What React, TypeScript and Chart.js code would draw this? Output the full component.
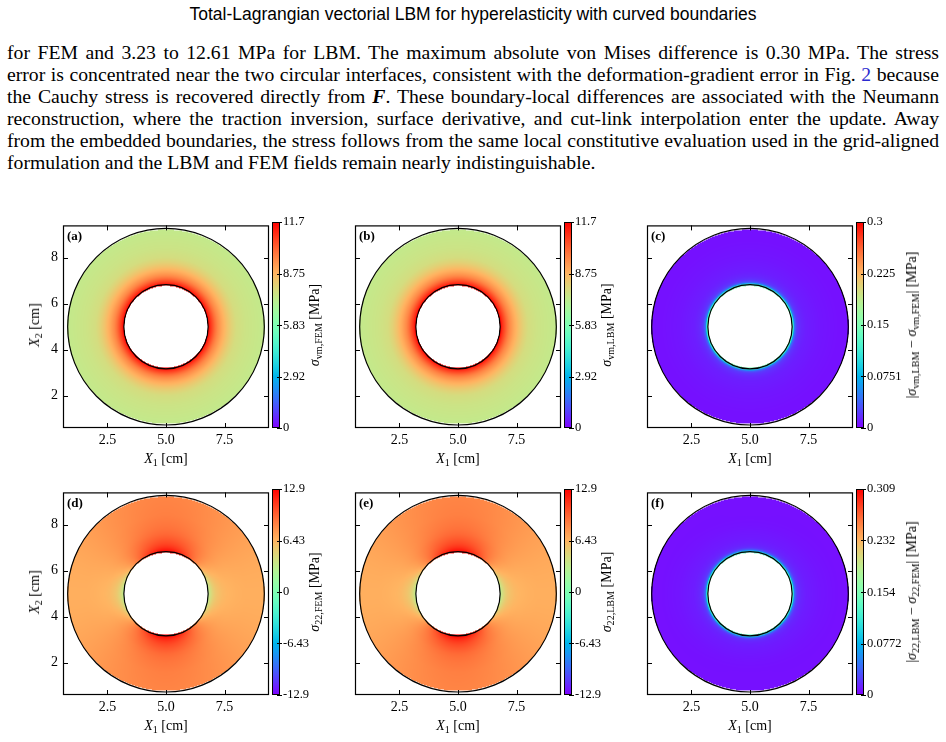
import React, { useEffect, useRef } from 'react';
import { Chart, registerables } from 'chart.js';
Chart.register(...registerables);

// ---------------- data ----------------
const xTicks = [2.5, 5.0, 7.5];
const xTickLabels = ['2.5', '5.0', '7.5'];
const yTicks = [2, 4, 6, 8];
const yTickLabels = ['2', '4', '6', '8'];
const axisRange = [0.6, 9.4];
const ringCenter = [5.0, 5.0];
const ringRadii = [1.8, 4.2];

// radial sample positions (cm) for the field profiles
const profileRadii = [1.8, 1.85, 1.9, 2.0, 2.1, 2.2, 2.4, 2.6, 2.8, 3.0, 3.4, 3.8, 4.2];
// von Mises stress (MPa), axisymmetric
const vmFem = [11.7, 11.4, 11.0, 10.5, 10.0, 9.6, 9.0, 8.5, 8.1, 7.8, 7.6, 7.5, 7.4];
const vmLbm = [11.7, 11.4, 11.0, 10.5, 10.0, 9.6, 9.0, 8.5, 8.1, 7.8, 7.6, 7.5, 7.4];
const vmAbsDiff = [0.15, 0.11, 0.045, 0.022, 0.017, 0.014, 0.011, 0.01, 0.009, 0.008, 0.007, 0.006, 0.006];
// sigma_22 (MPa) along the vertical (top/bottom) and horizontal (left/right) directions
const s22FemVertical = [12.9, 12.5, 12.1, 11.4, 10.9, 10.5, 9.9, 9.4, 9.1, 8.9, 8.6, 8.5, 8.4];
const s22FemHorizontal = [2.8, 3.6, 4.2, 5.0, 5.5, 5.8, 6.2, 6.4, 6.5, 6.6, 6.7, 6.7, 6.7];
const s22LbmVertical = [12.9, 12.5, 12.1, 11.4, 10.9, 10.5, 9.9, 9.4, 9.1, 8.9, 8.6, 8.5, 8.4];
const s22LbmHorizontal = [2.8, 3.6, 4.2, 5.0, 5.5, 5.8, 6.2, 6.4, 6.5, 6.6, 6.7, 6.7, 6.7];
const s22DiffVertical = [0.14, 0.1, 0.04, 0.018, 0.014, 0.012, 0.01, 0.009, 0.008, 0.007, 0.006, 0.006, 0.006];
const s22DiffHorizontal = [0.15, 0.11, 0.045, 0.022, 0.017, 0.014, 0.011, 0.01, 0.009, 0.008, 0.007, 0.006, 0.006];

// colorbar ranges and ticks
const vmRange = [0, 11.7];
const vmCbTicks = [0, 2.92, 5.83, 8.75, 11.7];
const vmCbLabels = ['0', '2.92', '5.83', '8.75', '11.7'];
const vmDiffRange = [0, 0.3];
const vmDiffCbTicks = [0, 0.0751, 0.15, 0.225, 0.3];
const vmDiffCbLabels = ['0', '0.0751', '0.15', '0.225', '0.3'];
const s22Range = [-12.9, 12.9];
const s22CbTicks = [-12.9, -6.43, 0, 6.43, 12.9];
const s22CbLabels = ['-12.9', '-6.43', '0', '6.43', '12.9'];
const s22DiffRange = [0, 0.309];
const s22DiffCbTicks = [0, 0.0772, 0.154, 0.232, 0.309];
const s22DiffCbLabels = ['0', '0.0772', '0.154', '0.232', '0.309'];

const panelLetters = ['(a)', '(b)', '(c)', '(d)', '(e)', '(f)'];

const headerText = 'Total-Lagrangian vectorial LBM for hyperelasticity with curved boundaries';

// ---------------- layout ----------------
const SERIF = '"Liberation Serif", "Times New Roman", serif';
const PLOT = 206;
const colLeft = [63, 355, 647];
const rowTop = [222, 489];
const CB_OFF = 209;
const CB_W = 8;

// ---------------- helpers ----------------
function rainbow(t: number): number[] {
  const u = Math.max(0, Math.min(1, t));
  const r = Math.min(1, Math.abs(2 * u - 0.5));
  const g = Math.sin(Math.PI * u);
  const b = Math.cos((Math.PI * u) / 2);
  return [Math.round(r * 255), Math.round(g * 255), Math.round(Math.max(0, b) * 255)];
}

function interp(r: number, xs: number[], ys: number[]) {
  if (r <= xs[0]) return ys[0];
  for (let i = 1; i < xs.length; i++) {
    if (r <= xs[i]) {
      const f = (r - xs[i - 1]) / (xs[i] - xs[i - 1]);
      return ys[i - 1] + f * (ys[i] - ys[i - 1]);
    }
  }
  return ys[ys.length - 1];
}

const fieldPlugin = {
  id: 'annulusField',
  beforeDatasetsDraw(chart: any, _a: any, opts: any) {
    const { ctx, chartArea: ca, scales } = chart;
    const xs = scales.x, ys = scales.y;
    const w = Math.round(ca.right - ca.left), h = Math.round(ca.bottom - ca.top);
    const img = ctx.createImageData(w, h);
    const [cx, cy] = ringCenter;
    const [rIn, rOut] = ringRadii;
    const [vmin, vmax] = opts.range;
    for (let j = 0; j < h; j++) {
      const yv = ys.getValueForPixel(ca.top + j + 0.5);
      for (let i = 0; i < w; i++) {
        const xv = xs.getValueForPixel(ca.left + i + 0.5);
        const dx = xv - cx, dy = yv - cy;
        const r = Math.sqrt(dx * dx + dy * dy);
        if (r < rIn - 0.02 || r > rOut + 0.02) continue;
        const s2 = r > 0 ? (dy * dy) / (r * r) : 0;
        const v = interp(r, profileRadii, opts.vertical) * s2 + interp(r, profileRadii, opts.horizontal) * (1 - s2);
        const c = rainbow((v - vmin) / (vmax - vmin));
        const k = (j * w + i) * 4;
        img.data[k] = c[0]; img.data[k + 1] = c[1]; img.data[k + 2] = c[2]; img.data[k + 3] = 255;
      }
    }
    const off = document.createElement('canvas');
    off.width = w; off.height = h;
    (off.getContext('2d') as any).putImageData(img, 0, 0);
    ctx.save();
    ctx.drawImage(off, ca.left, ca.top);
    const px = xs.getPixelForValue(cx), py = ys.getPixelForValue(cy);
    ctx.strokeStyle = '#000';
    ctx.lineWidth = 1.2;
    for (const rr of ringRadii) {
      const rp = xs.getPixelForValue(cx + rr) - px;
      ctx.beginPath();
      ctx.arc(px, py, rp, 0, Math.PI * 2);
      ctx.stroke();
    }
    ctx.restore();
  },
  afterDraw(chart: any, _a: any, opts: any) {
    const { ctx, chartArea: ca, scales } = chart;
    ctx.save();
    ctx.strokeStyle = '#000';
    ctx.lineWidth = 1;
    const L = 5;
    ctx.beginPath();
    for (const v of xTicks) {
      const p = Math.round(scales.x.getPixelForValue(v)) + 0.5;
      ctx.moveTo(p, ca.bottom); ctx.lineTo(p, ca.bottom - L);
      ctx.moveTo(p, ca.top); ctx.lineTo(p, ca.top + L);
    }
    for (const v of yTicks) {
      const p = Math.round(scales.y.getPixelForValue(v)) + 0.5;
      ctx.moveTo(ca.left, p); ctx.lineTo(ca.left + L, p);
      ctx.moveTo(ca.right, p); ctx.lineTo(ca.right - L, p);
    }
    ctx.stroke();
    ctx.lineWidth = 1.2;
    ctx.strokeRect(ca.left + 0.5, ca.top + 0.5, ca.right - ca.left - 1, ca.bottom - ca.top - 1);
    ctx.fillStyle = '#000';
    ctx.font = 'bold 13px ' + SERIF;
    ctx.textBaseline = 'middle';
    ctx.textAlign = 'left';
    ctx.fillText(opts.letter, ca.left + 4, ca.top + 11);
    ctx.restore();
  },
};

const cbPlugin = {
  id: 'cbFrame',
  afterDraw(chart: any, _a: any, opts: any) {
    const { ctx, chartArea: ca, scales } = chart;
    ctx.save();
    ctx.strokeStyle = '#000';
    ctx.lineWidth = 1;
    ctx.beginPath();
    for (const v of opts.ticks) {
      const p = Math.round(scales.y.getPixelForValue(v)) + 0.5;
      ctx.moveTo(ca.right - 3, p); ctx.lineTo(ca.right + 2, p);
    }
    ctx.stroke();
    ctx.strokeRect(ca.left + 0.5, ca.top + 0.5, ca.right - ca.left - 1, ca.bottom - ca.top - 1);
    ctx.restore();
  },
};

function FieldChart({ left, top, spec, showY }: any) {
  const ref = useRef<HTMLCanvasElement>(null);
  const PADL = 40, PADT = 10, PADR = 4, PADB = 24;
  const W = PADL + PLOT + PADR, H = PADT + PLOT + PADB;
  useEffect(() => {
    const chart = new Chart(ref.current as any, {
      type: 'scatter',
      data: { datasets: [] },
      plugins: [fieldPlugin as any],
      options: {
        animation: false,
        responsive: false,
        devicePixelRatio: 1,
        layout: { padding: { left: 0, top: PADT, right: PADR, bottom: 0 } },
        plugins: {
          legend: { display: false },
          tooltip: { enabled: false },
          annulusField: spec,
        } as any,
        scales: {
          x: {
            type: 'linear', position: 'bottom', min: axisRange[0], max: axisRange[1],
            afterBuildTicks: (s: any) => { s.ticks = xTicks.map((v) => ({ value: v })); },
            afterFit: (s: any) => { s.height = PADB; },
            ticks: {
              callback: (v: any) => xTickLabels[xTicks.indexOf(v)] ?? '',
              font: { family: SERIF, size: 14 }, color: '#000', padding: 4, maxRotation: 0, autoSkip: false,
            },
            grid: { display: false, drawTicks: false },
            border: { display: false },
          },
          y: {
            type: 'linear', position: 'left', min: axisRange[0], max: axisRange[1],
            afterBuildTicks: (s: any) => { s.ticks = yTicks.map((v) => ({ value: v })); },
            afterFit: (s: any) => { s.width = PADL; },
            ticks: {
              callback: (v: any) => (showY ? yTickLabels[yTicks.indexOf(v)] ?? '' : ''),
              font: { family: SERIF, size: 14 }, color: '#000', padding: 5, autoSkip: false,
            },
            grid: { display: false, drawTicks: false },
            border: { display: false },
          },
        },
      } as any,
    });
    return () => chart.destroy();
  }, []);
  return (
    <canvas ref={ref} width={W} height={H}
      style={{ position: 'absolute', left: left - PADL, top: top - PADT, width: W, height: H }} />
  );
}

function ColorbarChart({ left, top, range, ticks, labels }: any) {
  const ref = useRef<HTMLCanvasElement>(null);
  const AX = 44, PAD = 12;
  const W = CB_W + AX, H = PLOT + 2 * PAD;
  useEffect(() => {
    const chart = new Chart(ref.current as any, {
      type: 'bar',
      data: {
        labels: ['cb'],
        datasets: [{
          data: [[range[0], range[1]]],
          backgroundColor: (c: any) => {
            const ca = c.chart.chartArea;
            if (!ca) return 'rgba(0,0,0,0)';
            const g = c.chart.ctx.createLinearGradient(0, ca.bottom, 0, ca.top);
            for (let i = 0; i <= 40; i++) {
              const col = rainbow(i / 40);
              g.addColorStop(i / 40, `rgb(${col[0]},${col[1]},${col[2]})`);
            }
            return g;
          },
          borderWidth: 0,
          barPercentage: 1,
          categoryPercentage: 1,
        }],
      },
      plugins: [cbPlugin as any],
      options: {
        animation: false,
        responsive: false,
        devicePixelRatio: 1,
        layout: { padding: { left: 0, top: PAD, right: 0, bottom: PAD } },
        plugins: { legend: { display: false }, tooltip: { enabled: false }, cbFrame: { ticks } } as any,
        scales: {
          x: { display: false },
          y: {
            type: 'linear', position: 'right', min: range[0], max: range[1],
            afterBuildTicks: (s: any) => { s.ticks = ticks.map((v: number) => ({ value: v })); },
            afterFit: (s: any) => { s.width = AX; },
            ticks: {
              callback: (v: any) => labels[ticks.indexOf(v)] ?? '',
              font: { family: SERIF, size: 12.5 }, color: '#000', padding: 3, autoSkip: false,
            },
            grid: { display: false, drawTicks: false },
            border: { display: false },
          },
        },
      } as any,
    });
    return () => chart.destroy();
  }, []);
  return (
    <canvas ref={ref} width={W} height={H}
      style={{ position: 'absolute', left, top: top - PAD, width: W, height: H }} />
  );
}

const sub = (t: string) => (
  <span style={{ fontSize: '0.72em', fontStyle: 'normal', position: 'relative', top: '0.28em' }}>{t}</span>
);
const sigma = (s: string) => (<span><i>σ</i>{sub(s)}</span>);

function Rotated({ cx, cy, children, size = 14 }: any) {
  return (
    <div style={{
      position: 'absolute', left: cx, top: cy, transform: 'translate(-50%, -50%) rotate(-90deg)',
      whiteSpace: 'nowrap', fontFamily: SERIF, fontSize: size, lineHeight: 1, color: '#000',
    }}>{children}</div>
  );
}

function XLabel({ cx, cy }: any) {
  return (
    <div style={{
      position: 'absolute', left: cx, top: cy, transform: 'translate(-50%, -50%)',
      whiteSpace: 'nowrap', fontFamily: SERIF, fontSize: 14, lineHeight: 1, color: '#000',
    }}><i>X</i>{sub('1')} [cm]</div>
  );
}

const paragraphLines: any[] = [
  'for FEM and 3.23 to 12.61 MPa for LBM. The maximum absolute von Mises difference is 0.30 MPa. The stress',
  <>error is concentrated near the two circular interfaces, consistent with the deformation-gradient error in Fig. <span style={{ color: '#2b2bd0' }}>2</span> because</>,
  <>the Cauchy stress is recovered directly from <b><i>F</i></b>. These boundary-local differences are associated with the Neumann</>,
  'reconstruction, where the traction inversion, surface derivative, and cut-link interpolation enter the update. Away',
  'from the embedded boundaries, the stress follows from the same local constitutive evaluation used in the grid-aligned',
  'formulation and the LBM and FEM fields remain nearly indistinguishable.',
];

export default function App() {
  const panels = [
    { range: vmRange, vertical: vmFem, horizontal: vmFem, ticks: vmCbTicks, labels: vmCbLabels, title: <>{sigma('vm,FEM')} [MPa]</>, diff: false },
    { range: vmRange, vertical: vmLbm, horizontal: vmLbm, ticks: vmCbTicks, labels: vmCbLabels, title: <>{sigma('vm,LBM')} [MPa]</>, diff: false },
    { range: vmDiffRange, vertical: vmAbsDiff, horizontal: vmAbsDiff, ticks: vmDiffCbTicks, labels: vmDiffCbLabels, title: <>|{sigma('vm,LBM')} − {sigma('vm,FEM')}| [MPa]</>, diff: true },
    { range: s22Range, vertical: s22FemVertical, horizontal: s22FemHorizontal, ticks: s22CbTicks, labels: s22CbLabels, title: <>{sigma('22,FEM')} [MPa]</>, diff: false },
    { range: s22Range, vertical: s22LbmVertical, horizontal: s22LbmHorizontal, ticks: s22CbTicks, labels: s22CbLabels, title: <>{sigma('22,LBM')} [MPa]</>, diff: false },
    { range: s22DiffRange, vertical: s22DiffVertical, horizontal: s22DiffHorizontal, ticks: s22DiffCbTicks, labels: s22DiffCbLabels, title: <>|{sigma('22,LBM')} − {sigma('22,FEM')}| [MPa]</>, diff: true },
  ];
  return (
    <div style={{ position: 'absolute', left: 0, top: 0, width: 946, height: 742, background: '#fff', overflow: 'hidden' }}>
      <div style={{
        position: 'absolute', left: 0, top: 3, width: 946, textAlign: 'center',
        fontFamily: '"Liberation Sans", Arial, sans-serif', fontSize: 17.5, lineHeight: '22px', color: '#000',
      }}>
        <span style={{ display: 'inline-block', transform: 'scaleX(1.0)' }}>{headerText}</span>
      </div>
      {paragraphLines.map((ln, i) => (
        <div key={i} style={{
          position: 'absolute', left: 7, top: 41 + i * 22, width: 932, height: 22,
          fontFamily: SERIF, fontSize: 19.7, lineHeight: '22px', color: '#000', whiteSpace: 'nowrap',
          textAlign: 'justify', textAlignLast: i < 5 ? 'justify' : 'left',
        } as any}>{ln}</div>
      ))}
      {panels.map((p, k) => {
        const col = k % 3, row = Math.floor(k / 3);
        const L = colLeft[col], T = rowTop[row];
        return (
          <React.Fragment key={k}>
            <FieldChart left={L} top={T} showY={col === 0}
              spec={{ range: p.range, vertical: p.vertical, horizontal: p.horizontal, letter: panelLetters[k] }} />
            <ColorbarChart left={L + CB_OFF} top={T} range={p.range} ticks={p.ticks} labels={p.labels} />
            <XLabel cx={L + PLOT / 2} cy={T + PLOT + 31} />
            {col === 0 && <Rotated cx={35} cy={T + PLOT / 2}><i>X</i>{sub('2')} [cm]</Rotated>}
            <Rotated cx={L + CB_OFF + (p.diff ? 56 : 43)} cy={T + PLOT / 2} size={14}>{p.title}</Rotated>
          </React.Fragment>
        );
      })}
    </div>
  );
}
